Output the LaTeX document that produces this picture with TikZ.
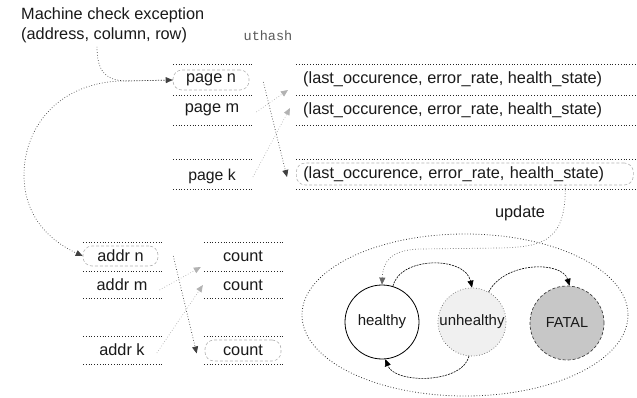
\documentclass[tikz,border=0pt]{standalone}
\usepackage{fontspec}
\setmainfont{Liberation Sans}
\setmonofont{Liberation Mono}
\usetikzlibrary{arrows.meta}
\begin{document}
\begin{tikzpicture}[x=1pt,y=-1pt,
  txt/.style={font=\fontsize{16.3}{20}\selectfont, text=black!90, inner sep=0pt},
  small/.style={font=\fontsize{15.8}{19}\selectfont, text=black!90, inner sep=0pt},
  sep/.style={draw=black!85, dotted, line width=0.8pt},
  hl/.style={draw=black!30, densely dashed, rounded corners=9pt, line width=0.6pt},
  darr/.style={draw=black!75, dotted, line width=0.7pt, -{Triangle[length=7pt,width=6pt]}},
  garr/.style={draw=black!30, dotted, line width=0.7pt, -{Triangle[length=7pt,width=6pt]}},
  sarr/.style={draw=black, dash pattern=on 2pt off 1pt, line width=0.6pt, -{Triangle[length=7pt,width=6pt]}},
  state/.style={circle, inner sep=0pt, font=\fontsize{15}{18}\selectfont, text=black!90}
]
\useasboundingbox (0,0) rectangle (637,398);

% text heading
\node[txt, align=left, anchor=west] (mc) at (21,25) {Machine check exception\\(address, column, row)};
\node[font=\fontsize{13.5}{16}\ttfamily, text=black!65, inner sep=0pt] (uth) at (268,36) {uthash};

% page table separators
\foreach \y in {64,95,125,159,189} {
  \draw[sep] (173,\y) -- (252,\y);
  \draw[sep] (296,\y) -- (637,\y);
}
\node[txt, hl, minimum width=76pt, minimum height=20pt] (pn) at (211,80) {page n};
\node[txt] (pm) at (212,110) {page m};
\node[small] (pk) at (212,176) {page k};

\node[txt, anchor=west] (t1) at (303,79) {(last\_occurence, error\_rate, health\_state)};
\node[txt, anchor=west] (t2) at (303,110) {(last\_occurence, error\_rate, health\_state)};
\node[txt, hl, anchor=west, minimum height=22pt, text width=323pt, inner xsep=7pt, align=left] (t3) at (296,174) {(last\_occurence, error\_rate, health\_state)};

\draw[darr] ([xshift=14pt,yshift=-2pt]pn.east) -- ([xshift=-9pt,yshift=-3pt]t3.west);
\draw[garr] ([xshift=17pt,yshift=-2pt]pm.east) -- ([xshift=-15pt,yshift=-11pt]t1.west);
\draw[garr] ([xshift=17pt,yshift=-1pt]pk.east) -- ([xshift=-13pt,yshift=2pt]t2.west);

% addr / count tables
\foreach \y in {242,271,298,336,364} {
  \draw[sep] (83,\y) -- (162,\y);
  \draw[sep] (204,\y) -- (283,\y);
}
\node[txt, hl, minimum width=75pt, minimum height=20pt] (an) at (120.5,256) {addr n};
\node[txt] (am) at (122,285) {addr m};
\node[txt] (ak) at (122,350) {addr k};
\node[txt] (c1) at (243,256) {count};
\node[txt] (c2) at (243,285) {count};
\node[txt, hl, minimum width=76pt, minimum height=21pt] (c3) at (243,350.5) {count};

\draw[darr] ([xshift=15pt]an.east) -- ([xshift=-8pt,yshift=-3pt]c3.west);
\draw[garr] ([xshift=12pt,yshift=-5pt]am.east) -- ([xshift=-22pt,yshift=-11pt]c1.west);
\draw[garr] ([xshift=12pt,yshift=-3pt]ak.east) -- ([xshift=-20pt,yshift=0pt]c2.west);

% curves on the left
\draw[darr] ([xshift=76pt,yshift=-4pt]mc.south west) .. controls (97,72) and (106,81) .. (128,81) -- (pn.west);
\draw[darr] (pn.west) -- (120,81) .. controls (55,84) and (24,130) .. (24,175) .. controls (24,215) and (48,240) .. (an.west);

% state machine
\draw[black!80, dotted, line width=0.8pt] (465,315) ellipse [x radius=163, y radius=81];
\node[state, draw=black, line width=0.8pt, fill=white, minimum size=74pt] (h) at (382,322) {healthy};
\node[state, draw=black!60, dotted, line width=0.7pt, fill=black!6, minimum size=68pt] (u) at (472,322) {unhealthy};
\node[state, draw=black!75, densely dashed, line width=0.7pt, fill=black!22, minimum size=74pt, font=\fontsize{14.5}{17}\selectfont] (f) at (567,323) {FATAL};

\draw[sarr] (h.73) .. controls (400,256) and (465,256) .. (u.north);
\draw[sarr] (u.61) .. controls (505,261) and (562,261) .. (f.86);
\draw[sarr] (u.-95) .. controls (462,384) and (395,384) .. (h.-85);

\node[txt] (upd) at (520,213) {update};
\draw[draw=black!60, dotted, line width=0.7pt, -{Triangle[length=7pt,width=6pt]}]
  ([xshift=100.5pt]t3.south) .. controls (566,240) and (545,247) .. (500,248) -- (420,249) .. controls (390,250) and (383,262) .. (h.north);
\end{tikzpicture}
\end{document}
